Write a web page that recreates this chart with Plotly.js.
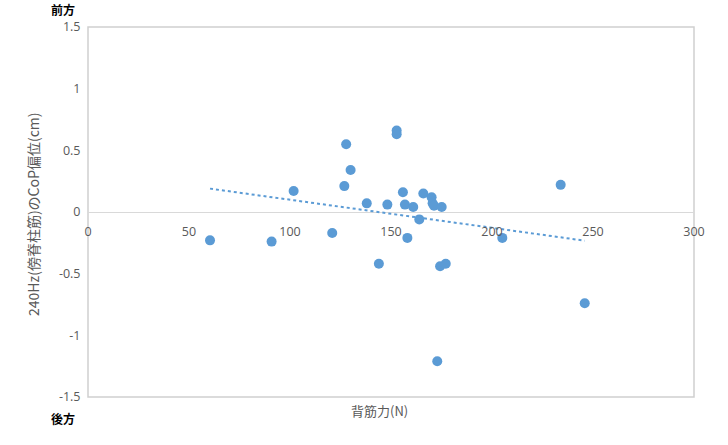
<!DOCTYPE html>
<html>
<head>
<meta charset="utf-8">
<script src="https://cdn.plot.ly/plotly-3.0.1.min.js"></script>
<style>html,body{margin:0;padding:0;background:#fff;}#chart{width:728px;height:445px;}</style>
</head>
<body>
<div id="chart"></div>
<script>
// Data
const backStrength = [60.4, 90.9, 101.8, 120.9, 126.9, 127.8, 130.0, 138.0, 144.0, 148.2, 152.8, 152.8, 155.9, 156.9, 158.1, 161.0, 164.0, 166.0, 170.1, 170.6, 171.3, 172.9, 174.3, 175.1, 177.1, 205.1, 234.0, 245.9];
const copShift = [-0.23, -0.24, 0.17, -0.17, 0.21, 0.55, 0.34, 0.07, -0.42, 0.06, 0.66, 0.63, 0.16, 0.06, -0.21, 0.04, -0.06, 0.15, 0.12, 0.07, 0.05, -1.21, -0.44, 0.04, -0.42, -0.21, 0.22, -0.74];
const xTicks = [0, 50, 100, 150, 200, 250, 300];
const yTicks = [1.5, 1, 0.5, 0, -0.5, -1, -1.5];
const yTickText = ['1.5', '1', '0.5', '0', '-0.5', '-1', '-1.5'];
const xTitle = '背筋力(N)';
const yTitle = '240Hz(傍脊柱筋)のCoP偏位(cm)';
const topLabel = '前方';
const bottomLabel = '後方';

// Linear trendline (least squares) over the data range
const n = backStrength.length;
const mx = backStrength.reduce((a, b) => a + b, 0) / n;
const my = copShift.reduce((a, b) => a + b, 0) / n;
let sxy = 0, sxx = 0;
for (let i = 0; i < n; i++) { sxy += (backStrength[i] - mx) * (copShift[i] - my); sxx += (backStrength[i] - mx) ** 2; }
const slope = sxy / sxx, intercept = my - slope * mx;
const xMin = Math.min(...backStrength), xMax = Math.max(...backStrength);
const trendX = [xMin, xMax];
const trendY = trendX.map(v => intercept + slope * v);

const blue = '#5b9bd5';
const grey = '#595959';
const font = 'Noto Sans CJK JP, Noto Sans, sans-serif';

const traces = [
  { x: trendX, y: trendY, mode: 'lines', line: { color: blue, width: 2, dash: 'dot' }, hoverinfo: 'skip' },
  { x: backStrength, y: copShift, mode: 'markers', marker: { color: blue, size: 10 } }
];

const W = 728, H = 445, L = 88, R = 34, T = 27, B = 48;
const px = v => (v - L) / (W - L - R);
const py = v => 1 - (v - T) / (H - T - B);

const layout = {
  width: W, height: H,
  margin: { l: L, r: R, t: T, b: B, pad: 0 },
  paper_bgcolor: '#ffffff', plot_bgcolor: '#ffffff',
  showlegend: false,
  font: { family: font, color: grey, size: 12 },
  xaxis: {
    range: [0, 300], tickvals: xTicks, ticktext: xTicks.map(String),
    anchor: 'free', position: 0.5,
    showgrid: false, zeroline: false, showline: false,
    ticks: 'outside', ticklen: 8, tickcolor: 'rgba(0,0,0,0)',
    tickfont: { family: 'Open Sans, sans-serif', size: 12.5, color: grey },
    fixedrange: true
  },
  yaxis: {
    range: [-1.5, 1.5], tickvals: yTicks, ticktext: yTickText,
    showgrid: false, zeroline: true, zerolinecolor: '#d9d9d9', zerolinewidth: 1,
    showline: false, ticks: 'outside', ticklen: 4, tickcolor: 'rgba(0,0,0,0)',
    tickfont: { family: 'Open Sans, sans-serif', size: 12.5, color: grey },
    fixedrange: true
  },
  shapes: [
    { type: 'rect', xref: 'paper', yref: 'paper', x0: 0, x1: 1, y0: 0, y1: 1, line: { color: '#d0d0d0', width: 1.5 }, layer: 'below' }
  ],
  annotations: [
    { text: yTitle, xref: 'paper', yref: 'paper', x: px(33), y: py(215), textangle: -90, showarrow: false,
      xanchor: 'center', yanchor: 'middle', font: { family: font, size: 14, color: grey } },
    { text: xTitle, xref: 'paper', yref: 'paper', x: px(379), y: py(410), showarrow: false,
      xanchor: 'center', yanchor: 'middle', font: { family: font, size: 13, color: grey } },
    { text: '<b>' + topLabel + '</b>', xref: 'paper', yref: 'paper', x: px(63), y: py(9), showarrow: false,
      xanchor: 'center', yanchor: 'middle', font: { family: font, size: 12, color: '#000000' } },
    { text: '<b>' + bottomLabel + '</b>', xref: 'paper', yref: 'paper', x: px(63), y: py(418), showarrow: false,
      xanchor: 'center', yanchor: 'middle', font: { family: font, size: 12, color: '#000000' } }
  ]
};

Plotly.newPlot('chart', traces, layout, { displayModeBar: false, staticPlot: true });
</script>
</body>
</html>
